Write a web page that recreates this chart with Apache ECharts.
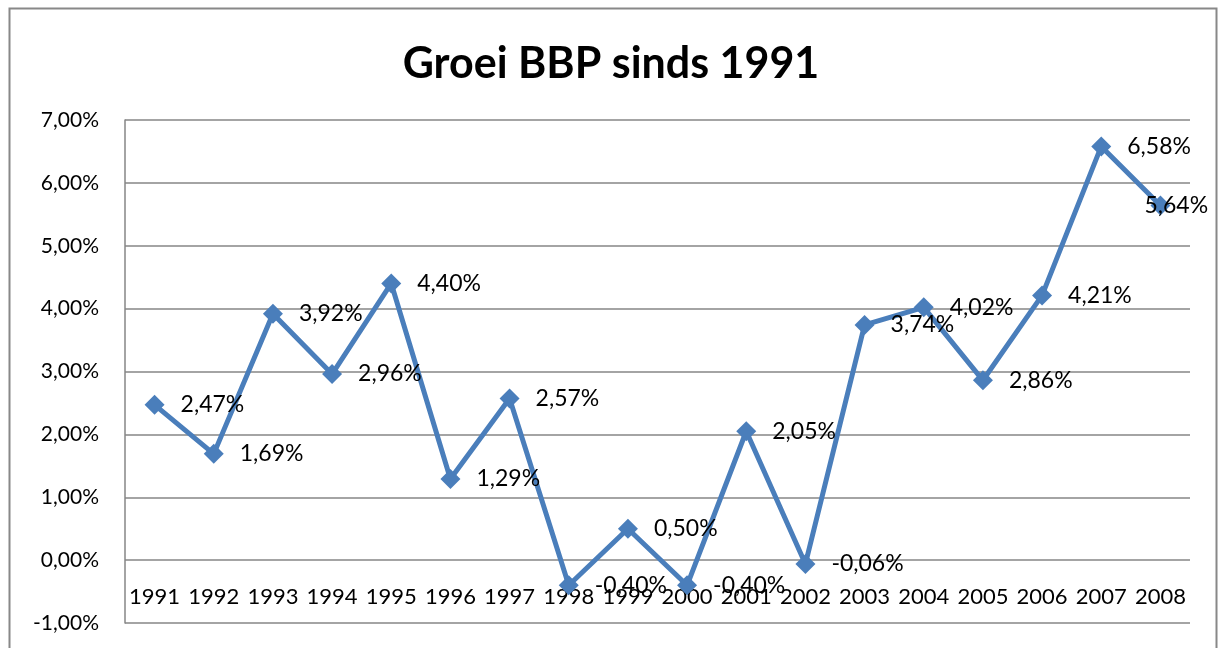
<!DOCTYPE html>
<html>
<head>
<meta charset="utf-8" />
<title>Groei BBP</title>
<script src="https://cdn.jsdelivr.net/npm/echarts@6/dist/echarts.min.js"></script>
<style>html,body{margin:0;padding:0;background:#fff;}</style>
</head>
<body>
<div id="main" style="width:1222px;height:648px;"></div>
<script type="text/javascript">
// jaren en groeicijfers (procent)
var jaren = ['1991', '1992', '1993', '1994', '1995', '1996', '1997', '1998', '1999',
	'2000', '2001', '2002', '2003', '2004', '2005', '2006', '2007', '2008'];
var groei = [2.47, 1.69, 3.92, 2.96, 4.40, 1.29, 2.57, -0.40, 0.50,
	-0.40, 2.05, -0.06, 3.74, 4.02, 2.86, 4.21, 6.58, 5.64];
var yTicks = [-1, 0, 1, 2, 3, 4, 5, 6, 7];

function pct(v) {
	return v.toFixed(2).replace('.', ',') + '%';
}

var myChart = echarts.init(document.getElementById('main'));
var font = 'Lato, "Open Sans", sans-serif';

// laatste label schuift over het punt heen, zoals in het origineel
var punten = groei.map(function (v, i) {
	if (i === groei.length - 1) {
		return { value: v, label: { distance: -26 } };
	}
	return v;
});

var option = {
	backgroundColor: '#fff',
	animation: false,
	title: {
		text: 'Groei BBP sinds 1991',
		left: 'center',
		top: 38,
		textStyle: { fontFamily: font, fontSize: 43, fontWeight: 'bold', color: '#000' }
	},
	graphic: [{
		type: 'rect',
		shape: { x: 9.5, y: 8.5, width: 1207, height: 700 },
		style: { fill: 'none', stroke: '#888', lineWidth: 2 },
		silent: true
	}],
	grid: { left: 125, right: 32, top: 120, bottom: 25, containLabel: false, outerBoundsMode: 'none' },
	xAxis: {
		type: 'category',
		data: jaren,
		position: 'bottom',
		offset: -63, // as ligt op 0%, een stap boven de onderrand
		axisLine: { show: false, onZero: false },
		axisTick: { show: false },
		axisLabel: { fontFamily: font, fontSize: 22, color: '#000', margin: 26, interval: 0, hideOverlap: false },
		splitLine: { show: false }
	},
	yAxis: {
		type: 'value',
		min: yTicks[0],
		max: yTicks[yTicks.length - 1],
		interval: 1,
		axisLine: { show: true, lineStyle: { color: '#868686', width: 1.5 } },
		axisTick: { show: false },
		axisLabel: { fontFamily: font, fontSize: 21, color: '#000', margin: 26, formatter: pct },
		splitLine: { show: true, lineStyle: { color: '#868686', width: 1.5 } }
	},
	series: [{
		name: 'Groei',
		type: 'line',
		data: punten,
		symbol: 'diamond',
		symbolSize: 20,
		lineStyle: { color: '#4A7EBB', width: 5 },
		itemStyle: { color: '#4A7EBB' },
		label: {
			show: true,
			position: 'right',
			distance: 16,
			fontFamily: font,
			fontSize: 23,
			color: '#000',
			formatter: function (p) { return pct(p.value); }
		}
	}]
};
myChart.setOption(option);
</script>
</body>
</html>
